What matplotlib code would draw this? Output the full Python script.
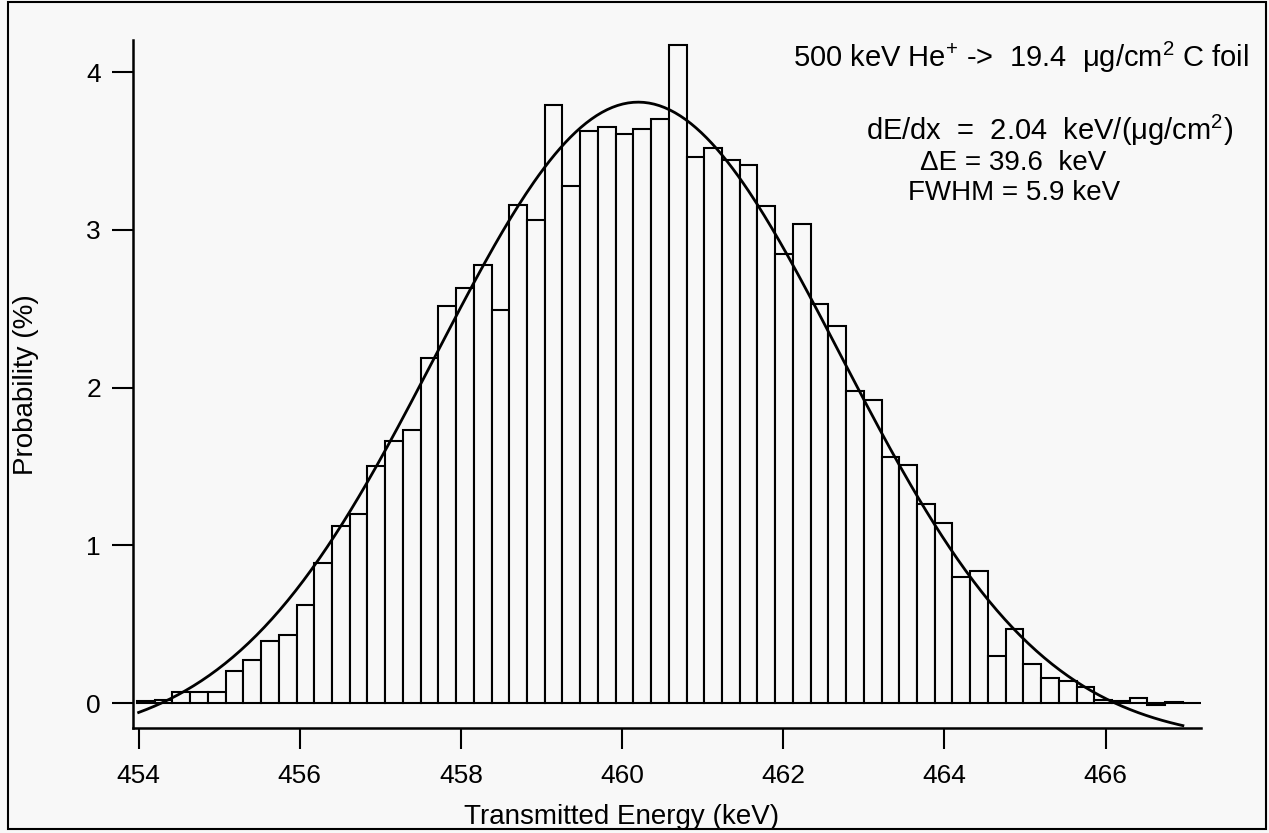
import numpy as np
import matplotlib
matplotlib.use('Agg')
import matplotlib.pyplot as plt
from matplotlib.patches import Rectangle

plt.rcParams['font.family'] = ['Liberation Sans', 'DejaVu Sans']
plt.rcParams['mathtext.fontset'] = 'custom'
plt.rcParams['mathtext.rm'] = 'Liberation Sans'
plt.rcParams['mathtext.it'] = 'Liberation Sans:italic'

# histogram: bins of 0.22 keV starting at 453.98 keV
bin_start = 453.98
bin_width = 0.22
prob = [0.01,
        0.02, 0.07, 0.07, 0.07, 0.20, 0.27, 0.39, 0.43, 0.62, 0.89,
        1.12, 1.20, 1.50, 1.66, 1.73, 2.19, 2.52, 2.63, 2.78, 2.49,
        3.16, 3.06, 3.79, 3.28, 3.63, 3.65, 3.61, 3.64, 3.70, 4.17,
        3.46, 3.52, 3.44, 3.41, 3.15, 2.85, 3.04, 2.53, 2.39, 1.98,
        1.92, 1.56, 1.51, 1.26, 1.14, 0.80, 0.84, 0.30, 0.47, 0.25,
        0.16, 0.14, 0.10, 0.02, 0.01, 0.03, -0.01, 0.005, 0.0]

# gaussian fit
fit_amp = 4.06
fit_center = 460.2
fit_fwhm = 5.9
fit_offset = -0.25
fit_range = (454.0, 466.96)

xticks = [454, 456, 458, 460, 462, 464, 466]
yticks = [0, 1, 2, 3, 4]

bg = '#f8f8f8'
fig = plt.figure(figsize=(12.69, 8.33), dpi=100, facecolor=bg)
ax = fig.add_axes([133/1269, 1-728/833, (1201-133)/1269, (728-40)/833])
ax.set_facecolor(bg)

lefts = bin_start + bin_width*np.arange(len(prob))
ax.bar(lefts, prob, width=bin_width, align='edge', facecolor=bg,
       edgecolor='black', linewidth=1.5, zorder=2)

sig = fit_fwhm/(2*np.sqrt(2*np.log(2)))
xf = np.linspace(fit_range[0], fit_range[1], 400)
yf = fit_amp*np.exp(-(xf-fit_center)**2/(2*sig**2)) + fit_offset
ax.plot(xf, yf, color='black', lw=2.0, zorder=3)

ax.set_xlim(453.93, 467.185)
ax.set_ylim(-0.1585, 4.204)
ax.set_xticks(xticks)
ax.set_yticks(yticks)
ax.tick_params(direction='out', length=15, width=1.5, labelsize=19, colors='black')
ax.tick_params(axis='x', pad=11)
ax.tick_params(axis='y', pad=8)
for s in ['top', 'right']:
    ax.spines[s].set_visible(False)
for s in ['left', 'bottom']:
    ax.spines[s].set_linewidth(1.8)

ax.set_xlabel('Transmitted Energy (keV)', fontsize=20, va='center')
ax.xaxis.set_label_coords(0.457, -0.129)
ax.set_ylabel('Probability (%)', fontsize=20, va='center')
ax.yaxis.set_label_coords(-0.100, 0.4985)

ax.text(0.618, 0.974, r'500 keV He$^{+}$ ->  19.4  μg/cm$^{2}$ C foil',
        transform=ax.transAxes, fontsize=21, ha='left', va='center')
ax.text(0.858, 0.868, r'dE/dx  =  2.04  keV/(μg/cm$^{2}$)',
        transform=ax.transAxes, fontsize=21, ha='center', va='center')
ax.text(0.824, 0.821, 'ΔE = 39.6  keV',
        transform=ax.transAxes, fontsize=20, ha='center', va='center')
ax.text(0.825, 0.778, 'FWHM = 5.9 keV',
        transform=ax.transAxes, fontsize=20, ha='center', va='center')

fig.patches.append(Rectangle((8/1269, 1-829/833), 1258/1269, 827/833,
                             transform=fig.transFigure, fill=False,
                             edgecolor='black', linewidth=1.5))

fig.savefig('out.png', dpi=100, facecolor=bg)
